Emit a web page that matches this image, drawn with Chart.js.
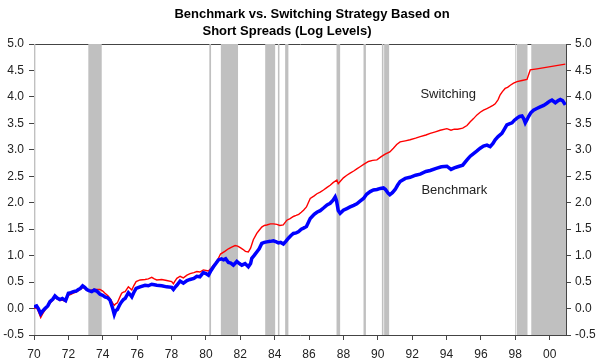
<!DOCTYPE html>
<html>
<head>
<meta charset="utf-8">
<script src="https://cdn.jsdelivr.net/npm/chart.js@4"></script>
<style>
  html, body { margin: 0; padding: 0; background: #fff; }
  #wrap { width: 600px; height: 362px; position: relative; }
</style>
</head>
<body>
<div id="wrap"><canvas id="strategyChart"></canvas></div>
<script>
// --- data ---
const titleLines = ['Benchmark vs. Switching Strategy Based on', 'Short Spreads (Log Levels)'];

const yearTicks = [1970, 1972, 1974, 1976, 1978, 1980, 1982, 1984, 1986, 1988, 1990, 1992, 1994, 1996, 1998, 2000];
const yearTickLabels = ['70', '72', '74', '76', '78', '80', '82', '84', '86', '88', '90', '92', '94', '96', '98', '00'];
const valueTicks = [-0.5, 0, 0.5, 1, 1.5, 2, 2.5, 3, 3.5, 4, 4.5, 5];

// shaded periods (start, end) in decimal years
const shadeStarts = [1970.00, 1973.16, 1980.20, 1980.87, 1983.45, 1984.19, 1984.61, 1987.60, 1989.17, 1990.24, 1990.37, 1998.00, 1998.10, 1998.93];
const shadeEnds   = [1970.08, 1973.94, 1980.30, 1981.87, 1984.03, 1984.28, 1984.80, 1987.81, 1989.31, 1990.33, 1990.66, 1998.06, 1998.71, 2000.95];

const benchYears = [
  1970.00, 1970.15, 1970.25, 1970.39, 1970.50, 1970.64, 1970.80, 1970.93, 1971.10, 1971.22,
  1971.35, 1971.51, 1971.65, 1971.84, 1972.00, 1972.15, 1972.29, 1972.45, 1972.58, 1972.70,
  1972.83, 1972.95, 1973.07, 1973.20, 1973.36, 1973.50, 1973.65, 1973.84, 1974.00, 1974.13,
  1974.30, 1974.42, 1974.50, 1974.58, 1974.67, 1974.75, 1974.85, 1975.00, 1975.10, 1975.20,
  1975.30, 1975.49, 1975.60, 1975.69, 1975.80, 1975.94, 1976.17, 1976.46, 1976.65, 1976.85,
  1977.00, 1977.14, 1977.43, 1977.72, 1978.01, 1978.11, 1978.20, 1978.31, 1978.50, 1978.69,
  1978.90, 1979.08, 1979.30, 1979.47, 1979.65, 1979.85, 1980.00, 1980.15, 1980.30, 1980.44,
  1980.60, 1980.73, 1980.90, 1981.02, 1981.15, 1981.31, 1981.45, 1981.60, 1981.80, 1981.95,
  1982.09, 1982.28, 1982.47, 1982.60, 1982.67, 1982.80, 1982.96, 1983.10, 1983.25, 1983.40,
  1983.54, 1983.75, 1983.93, 1984.10, 1984.22, 1984.35, 1984.51, 1984.65, 1984.80, 1984.95,
  1985.09, 1985.25, 1985.38, 1985.55, 1985.68, 1985.85, 1986.07, 1986.30, 1986.46, 1986.65,
  1986.84, 1987.05, 1987.23, 1987.40, 1987.52, 1987.60, 1987.70, 1987.81, 1988.00, 1988.20,
  1988.39, 1988.60, 1988.78, 1988.97, 1989.17, 1989.35, 1989.56, 1989.75, 1989.95, 1990.15,
  1990.33, 1990.45, 1990.60, 1990.70, 1990.85, 1991.01, 1991.15, 1991.30, 1991.60, 1991.88,
  1992.20, 1992.47, 1992.80, 1993.05, 1993.40, 1993.70, 1994.02, 1994.26, 1994.45, 1994.65,
  1994.94, 1995.19, 1995.38, 1995.57, 1995.77, 1995.96, 1996.15, 1996.35, 1996.54, 1996.70,
  1996.83, 1997.00, 1997.22, 1997.35, 1997.51, 1997.65, 1997.81, 1997.95, 1998.10, 1998.25,
  1998.39, 1998.50, 1998.58, 1998.68, 1998.77, 1998.90, 1999.06, 1999.25, 1999.45, 1999.65,
  1999.84, 2000.00, 2000.13, 2000.33, 2000.50, 2000.62, 2000.75, 2000.91
];
const benchValues = [
  0.03, 0.05, 0.00, -0.10, -0.05, 0.00, 0.05, 0.13, 0.18, 0.24,
  0.20, 0.17, 0.19, 0.15, 0.29, 0.30, 0.32, 0.33, 0.36, 0.38,
  0.43, 0.40, 0.36, 0.34, 0.32, 0.35, 0.33, 0.27, 0.25, 0.22,
  0.20, 0.16, 0.08, 0.00, -0.11, -0.04, -0.02, 0.08, 0.13, 0.17,
  0.19, 0.30, 0.26, 0.22, 0.30, 0.38, 0.41, 0.44, 0.43, 0.46,
  0.45, 0.44, 0.43, 0.41, 0.40, 0.36, 0.40, 0.44, 0.52, 0.48,
  0.53, 0.55, 0.57, 0.61, 0.60, 0.68, 0.66, 0.63, 0.72, 0.79,
  0.86, 0.92, 0.94, 0.92, 0.94, 0.87, 0.86, 0.82, 0.89, 0.85,
  0.82, 0.85, 0.79, 0.85, 0.95, 1.00, 1.07, 1.13, 1.23, 1.25,
  1.26, 1.27, 1.28, 1.26, 1.24, 1.25, 1.22, 1.27, 1.33, 1.38,
  1.42, 1.43, 1.45, 1.50, 1.52, 1.55, 1.70, 1.78, 1.82, 1.85,
  1.90, 1.96, 1.99, 2.05, 2.11, 2.04, 1.85, 1.80, 1.86, 1.89,
  1.92, 1.95, 1.98, 2.03, 2.08, 2.16, 2.21, 2.24, 2.25, 2.27,
  2.28, 2.25, 2.18, 2.15, 2.19, 2.25, 2.33, 2.40, 2.46, 2.48,
  2.52, 2.54, 2.59, 2.61, 2.65, 2.68, 2.69, 2.63, 2.66, 2.68,
  2.71, 2.81, 2.88, 2.93, 2.98, 3.03, 3.07, 3.09, 3.06, 3.12,
  3.19, 3.25, 3.31, 3.38, 3.47, 3.49, 3.51, 3.56, 3.60, 3.63,
  3.64, 3.58, 3.51, 3.57, 3.63, 3.70, 3.75, 3.78, 3.81, 3.84,
  3.88, 3.92, 3.94, 3.89, 3.93, 3.95, 3.93, 3.85
];

const switchYears = [
  1970.00, 1970.15, 1970.25, 1970.39, 1970.50, 1970.64, 1970.80, 1970.93, 1971.10, 1971.22,
  1971.35, 1971.51, 1971.65, 1971.84, 1972.00, 1972.15, 1972.29, 1972.45, 1972.58, 1972.70,
  1972.83, 1972.95, 1973.07, 1973.20, 1973.36, 1973.50, 1973.65, 1973.84, 1974.00, 1974.13,
  1974.30, 1974.42, 1974.50, 1974.58, 1974.67, 1974.75, 1974.85, 1975.00, 1975.10, 1975.20,
  1975.30, 1975.49, 1975.60, 1975.69, 1975.80, 1975.94, 1976.17, 1976.46, 1976.65, 1976.85,
  1977.00, 1977.14, 1977.43, 1977.72, 1978.01, 1978.11, 1978.20, 1978.31, 1978.50, 1978.69,
  1978.90, 1979.08, 1979.30, 1979.47, 1979.65, 1979.85, 1980.00, 1980.15, 1980.30, 1980.44,
  1980.60, 1980.73, 1980.85, 1981.10, 1981.31, 1981.50, 1981.70, 1981.85, 1982.00, 1982.15,
  1982.30, 1982.47, 1982.60, 1982.76, 1982.96, 1983.10, 1983.25, 1983.40, 1983.54, 1983.75,
  1983.93, 1984.13, 1984.30, 1984.50, 1984.71, 1984.90, 1985.09, 1985.25, 1985.40, 1985.55,
  1985.68, 1985.85, 1986.07, 1986.30, 1986.46, 1986.65, 1986.84, 1987.05, 1987.23, 1987.40,
  1987.62, 1987.70, 1987.81, 1988.00, 1988.20, 1988.39, 1988.60, 1988.78, 1988.97, 1989.20,
  1989.46, 1989.70, 1989.95, 1990.20, 1990.43, 1990.70, 1990.91, 1991.10, 1991.30, 1991.60,
  1991.88, 1992.20, 1992.47, 1992.80, 1993.05, 1993.35, 1993.63, 1994.02, 1994.26, 1994.45,
  1994.65, 1994.94, 1995.19, 1995.38, 1995.57, 1995.77, 1995.96, 1996.15, 1996.35, 1996.54,
  1996.70, 1996.83, 1997.00, 1997.12, 1997.25, 1997.41, 1997.55, 1997.71, 1997.90, 1998.10,
  1998.39, 1998.68, 1998.87, 1999.26, 2000.91
];
const switchValues = [
  0.00, 0.02, -0.05, -0.17, -0.10, -0.03, 0.03, 0.10, 0.16, 0.22,
  0.18, 0.15, 0.16, 0.13, 0.25, 0.27, 0.29, 0.31, 0.34, 0.36,
  0.40, 0.38, 0.35, 0.33, 0.35, 0.36, 0.36, 0.36, 0.33, 0.29,
  0.24, 0.19, 0.15, 0.10, 0.06, 0.09, 0.11, 0.22, 0.29, 0.31,
  0.32, 0.41, 0.38, 0.35, 0.43, 0.51, 0.54, 0.55, 0.56, 0.59,
  0.56, 0.54, 0.55, 0.53, 0.51, 0.47, 0.52, 0.57, 0.61, 0.58,
  0.63, 0.66, 0.68, 0.70, 0.69, 0.73, 0.72, 0.71, 0.76, 0.82,
  0.88, 0.95, 1.03, 1.08, 1.13, 1.16, 1.19, 1.18, 1.15, 1.12,
  1.08, 1.07, 1.14, 1.30, 1.42, 1.48, 1.54, 1.57, 1.58, 1.60,
  1.60, 1.59, 1.57, 1.58, 1.67, 1.70, 1.74, 1.76, 1.78, 1.82,
  1.86, 1.92, 2.08, 2.13, 2.17, 2.20, 2.24, 2.29, 2.33, 2.38,
  2.43, 2.36, 2.40, 2.47, 2.52, 2.56, 2.60, 2.64, 2.68, 2.73,
  2.78, 2.80, 2.81, 2.87, 2.92, 2.96, 3.03, 3.10, 3.15, 3.17,
  3.19, 3.22, 3.25, 3.28, 3.31, 3.34, 3.37, 3.40, 3.37, 3.39,
  3.39, 3.41, 3.46, 3.53, 3.59, 3.66, 3.71, 3.75, 3.78, 3.81,
  3.84, 3.87, 3.95, 4.04, 4.10, 4.16, 4.18, 4.22, 4.26, 4.29,
  4.31, 4.33, 4.51, 4.53, 4.62
];

// in-chart series labels: [text, year, value]
const seriesLabels = [['Switching', 1994.1, 4.04], ['Benchmark', 1994.45, 2.24]];

const FONT = 'Arial, "Liberation Sans", sans-serif';
const AXIS_COLOR = '#444';
const TEXT_COLOR = '#222';

const toPoints = (xs, ys) => xs.map((x, i) => ({ x: x, y: ys[i] }));

// grey shaded periods behind the lines
const shadePlugin = {
    id: 'shade',
    beforeDatasetsDraw(chart) {
        const { ctx, chartArea, scales } = chart;
        ctx.save();
        ctx.fillStyle = '#c0c0c0';
        shadeStarts.forEach((s, i) => {
            const x1 = scales.x.getPixelForValue(s);
            const x2 = scales.x.getPixelForValue(Math.min(shadeEnds[i], scales.x.max));
            ctx.fillRect(x1, chartArea.top, Math.max(1, x2 - x1), chartArea.bottom - chartArea.top);
        });
        ctx.restore();
    }
};

// two-line title and the series names inside the plot
const textPlugin = {
    id: 'texts',
    afterDraw(chart) {
        const { ctx, scales } = chart;
        ctx.save();
        ctx.fillStyle = '#000';
        ctx.textAlign = 'center';
        ctx.textBaseline = 'middle';
        ctx.font = 'bold 13px ' + FONT;
        ctx.fillText(titleLines[0], 312, 14);
        ctx.fillText(titleLines[1], 287, 31);
        ctx.font = '13px ' + FONT;
        ctx.fillStyle = TEXT_COLOR;
        seriesLabels.forEach(([txt, yr, v]) => {
            ctx.fillText(txt, scales.x.getPixelForValue(yr), scales.y.getPixelForValue(v));
        });
        ctx.restore();
    }
};

const yAxis = (position) => ({
    type: 'linear',
    position: position,
    min: -0.5,
    max: 5,
    afterBuildTicks: axis => { axis.ticks = valueTicks.map(v => ({ value: v })); },
    afterFit: axis => { axis.width = 34; },
    grid: { drawOnChartArea: false, drawTicks: true, tickLength: 5, color: AXIS_COLOR },
    border: { display: true, color: AXIS_COLOR, width: 1 },
    ticks: {
        color: TEXT_COLOR,
        font: { family: FONT, size: 12 },
        padding: position === 'left' ? 5 : 4,
        callback: v => v.toFixed(1)
    }
});

new Chart(document.getElementById('strategyChart'), {
    type: 'line',
    data: {
        datasets: [{
            label: 'Benchmark',
            data: toPoints(benchYears, benchValues),
            borderColor: '#0000ff',
            borderWidth: 3.5,
            pointRadius: 0,
            tension: 0,
            order: 0
        }, {
            label: 'Switching',
            data: toPoints(switchYears, switchValues),
            borderColor: '#ff0000',
            borderWidth: 1.4,
            pointRadius: 0,
            tension: 0,
            order: 1
        }]
    },
    options: {
        responsive: true,
        maintainAspectRatio: false,
        animation: false,
        layout: { padding: { top: 44, left: 0, right: 0, bottom: 0 } },
        scales: {
            x: {
                type: 'linear',
                position: 'bottom',
                min: 1970,
                max: 2000.95,
                afterBuildTicks: axis => { axis.ticks = yearTicks.map(v => ({ value: v })); },
                afterFit: axis => { axis.height = 27; },
                grid: { drawOnChartArea: false, drawTicks: true, tickLength: 5, color: AXIS_COLOR },
                border: { display: true, color: AXIS_COLOR, width: 1 },
                ticks: {
                    color: TEXT_COLOR,
                    font: { family: FONT, size: 12 },
                    padding: 7,
                    maxRotation: 0,
                    autoSkip: false,
                    callback: v => yearTickLabels[yearTicks.indexOf(v)]
                }
            },
            xTop: {
                type: 'linear',
                position: 'top',
                min: 1970,
                max: 2000.95,
                afterFit: axis => { axis.height = 0; },
                grid: { display: false, drawTicks: false },
                border: { display: true, color: AXIS_COLOR, width: 1 },
                ticks: { display: false }
            },
            y: yAxis('left'),
            yRight: yAxis('right')
        },
        plugins: {
            legend: { display: false },
            tooltip: { enabled: false }
        }
    },
    plugins: [shadePlugin, textPlugin]
});
</script>
</body>
</html>
